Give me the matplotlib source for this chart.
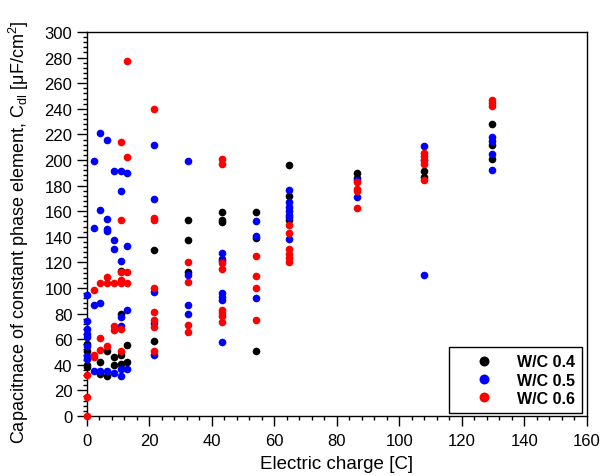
import matplotlib
matplotlib.use("Agg")
import matplotlib.pyplot as plt
from matplotlib.ticker import MultipleLocator

# charge [C] and capacitance [uF/cm2]
wc04_x = [0, 0, 0, 0, 4.3, 4.3, 6.4, 6.4, 8.6, 8.6,
          10.8, 10.8, 10.8, 10.8, 12.9, 12.9, 21.6, 21.6,
          32.4, 32.4, 32.4, 43.2, 43.2, 43.2, 43.2, 54, 54, 54,
          64.8, 64.8, 64.8, 86.4, 86.4, 108, 108, 129.6, 129.6, 129.6]
wc04_y = [56, 51, 40, 38, 42.4, 33, 50.5, 31, 46, 40,
          113.5, 80, 48, 41, 55.5, 42.4, 129.7, 58.8,
          153, 137.8, 112.8, 159.1, 153, 151.3, 122.7, 159.6, 139.1, 51,
          196.1, 171.6, 153.4, 189.6, 186, 191.6, 186.5, 228.4, 211.7, 200.8]

wc05_x = [0, 0, 0, 0, 0, 0, 0, 0,
          2.1, 2.1, 2.1, 2.1, 4.3, 4.3, 4.3, 4.3,
          6.4, 6.4, 6.4, 6.4, 6.4, 8.6, 8.6, 8.6, 8.6,
          10.8, 10.8, 10.8, 10.8, 10.8, 10.8, 10.8,
          12.9, 12.9, 12.9, 12.9, 21.6, 21.6, 21.6, 21.6, 21.6,
          32.4, 32.4, 32.4, 32.4, 43.2, 43.2, 43.2, 43.2, 43.2, 43.2,
          54, 54, 54, 64.8, 64.8, 64.8, 64.8, 64.8, 64.8, 64.8,
          86.4, 86.4, 108, 108, 108, 129.6, 129.6, 129.6, 129.6]
wc05_y = [94.5, 74, 68, 64, 61.5, 55, 47, 44.5,
          199, 146.9, 86.7, 35.4, 220.8, 161, 88, 35.4,
          216, 154.2, 146, 144.8, 35.4, 191.6, 137.7, 130.5, 33.6,
          191.6, 175.5, 121.4, 77, 70, 36.7, 31.3,
          189.6, 132.5, 83, 36.7, 211.5, 169.3, 97.1, 72.4, 47.7,
          199.5, 110.2, 87, 80, 127.1, 121.4, 96.1, 92.7, 90.6, 57.6,
          152.6, 140.9, 91.9, 176.8, 167, 163.3, 160.2, 157, 155.2, 138.3,
          184.6, 171.3, 210.7, 200, 110, 217.7, 215.1, 204.7, 192.2]

wc06_x = [0, 0, 0, 2.1, 2.1, 2.1, 4.3, 4.3, 4.3, 6.4, 6.4, 6.4,
          8.6, 8.6, 8.6, 10.8, 10.8, 10.8, 10.8, 10.8, 10.8, 10.8,
          12.9, 12.9, 12.9, 12.9, 21.6, 21.6, 21.6, 21.6, 21.6, 21.6, 21.6, 21.6,
          32.4, 32.4, 32.4, 32.4, 43.2, 43.2, 43.2, 43.2, 43.2, 43.2, 43.2, 43.2,
          54, 54, 54, 54, 64.8, 64.8, 64.8, 64.8, 64.8, 64.8,
          86.4, 86.4, 86.4, 86.4, 108, 108, 108, 108, 108,
          129.6, 129.6, 129.6]
wc06_y = [32, 15, 0, 98.4, 47.5, 45.8, 103.6, 61, 51.6, 108.3, 103.6, 54.4,
          103.6, 70, 67, 213.8, 153.4, 112.2, 106.4, 103.6, 68, 50.5,
          277, 202.6, 112.2, 103.6, 240, 155, 153, 100, 81.5, 75.3, 69.3, 50.5,
          120.6, 104.4, 71.3, 65.6, 200.8, 196.9, 119.3, 114.8, 83, 80.5, 77.9, 73.2,
          125.2, 109.6, 100, 75.3, 149.2, 143, 130.5, 126.6, 123.2, 120.1,
          182.6, 177.3, 175.5, 162.5, 205.5, 202.9, 200.2, 196.9, 184.6,
          247.1, 244.5, 241.9]

plt.rcParams['font.family'] = ['Liberation Sans', 'DejaVu Sans']
plt.rcParams['mathtext.fontset'] = 'custom'
plt.rcParams['mathtext.rm'] = 'Liberation Sans'
plt.rcParams['mathtext.it'] = 'Liberation Sans:italic'

fig = plt.figure(figsize=(6.02, 4.77), dpi=100)
ax = fig.add_axes([0.1445, 0.1258, 0.8305, 0.805])

series = [(wc04_x, wc04_y, 'black', 'W/C 0.4'),
          (wc05_x, wc05_y, '#0000ff', 'W/C 0.5'),
          (wc06_x, wc06_y, '#ff0000', 'W/C 0.6')]
for xs, ys, col, lab in series:
    ax.plot(xs, ys, linestyle='none', marker='o', markersize=5.5,
            color=col, markeredgewidth=0, label=lab, clip_on=False, zorder=3)

ax.set_xlim(0, 160)
ax.set_ylim(0, 300)
ax.xaxis.set_major_locator(MultipleLocator(20))
ax.xaxis.set_minor_locator(MultipleLocator(4))
ax.yaxis.set_major_locator(MultipleLocator(20))
ax.yaxis.set_minor_locator(MultipleLocator(4))
ax.tick_params(which='major', direction='out', length=7, width=1, labelsize=12)
ax.tick_params(axis='x', which='major', pad=5)
ax.tick_params(which='minor', direction='out', length=3, width=1)
for sp in ax.spines.values():
    sp.set_linewidth(1)

ax.set_xlabel('Electric charge [C]', fontsize=13.5, labelpad=5)
ax.set_ylabel(r'Capacitnace of constant phase element, C$_\mathrm{dl}$ [μF/cm$^\mathrm{2}$]',
              fontsize=13)
ax.yaxis.set_label_coords(-0.112, 0.482)

leg = ax.legend(loc='lower right', bbox_to_anchor=(0.99, 0.008), fancybox=False,
                edgecolor='black', framealpha=1, prop={'weight': 'bold', 'size': 11.5},
                handletextpad=0.3, borderpad=0.45, labelspacing=0.2,
                borderaxespad=0, markerscale=1.3, handlelength=3.5)
leg.get_frame().set_linewidth(1)

fig.savefig('out.png', dpi=100)
